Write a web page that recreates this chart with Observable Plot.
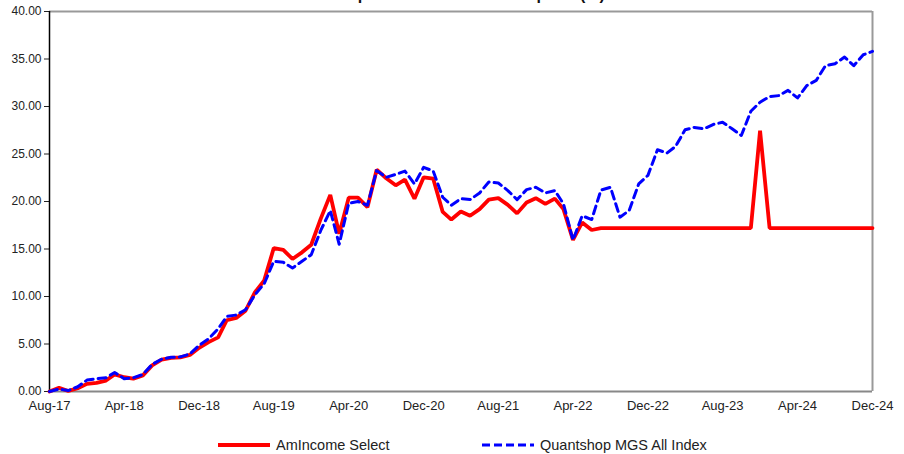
<!DOCTYPE html>
<html>
<head>
<meta charset="utf-8">
<script src="https://cdn.jsdelivr.net/npm/d3@7"></script>
<script src="https://cdn.jsdelivr.net/npm/@observablehq/plot@0.6"></script>
<style>
  body { margin: 0; background: #fff; font-family: "Liberation Sans", Arial, sans-serif; }
  #wrap { position: relative; width: 904px; height: 454px; overflow: hidden; }
  #title { position: absolute; top: -14px; left: 0; width: 872px; text-align: center; font-weight: bold; font-size: 16px; line-height: 18px; color: #111; white-space: nowrap; }
  #legend { position: absolute; top: 435px; left: 0; width: 904px; height: 20px; font-size: 14.5px; color: #222; }
  .item { position: absolute; top: 0; display: flex; align-items: center; }
  .item svg { margin-right: 6px; }
</style>
</head>
<body>
<div id="wrap">
  <div id="chart"></div>
  <div id="title">Cumulative performance since inception (%)</div>
  <div id="legend"></div>
</div>
<script>
const seriesNames = ["AmIncome Select", "Quantshop MGS All Index"];
const startMonth = "2017-08-01";
const endMonth = "2024-12-01";
const tickLabels = ["Aug-17","Apr-18","Dec-18","Aug-19","Apr-20","Dec-20","Aug-21","Apr-22","Dec-22","Aug-23","Apr-24","Dec-24"];
const yTicks = [0, 5, 10, 15, 20, 25, 30, 35, 40];

// Monthly values, Aug-17 .. Dec-24
const amIncome = [
  0.0, 0.4, 0.05, 0.35, 0.8, 0.9, 1.15, 1.8, 1.5, 1.35,
  1.7, 2.75, 3.35, 3.55, 3.6, 3.85, 4.6, 5.2, 5.7, 7.5,
  7.75, 8.5, 10.45, 11.7, 15.1, 14.9, 13.95, 14.65, 15.45, 18.2,
  20.7, 16.6, 20.4, 20.4, 19.4, 23.35, 22.45, 21.7, 22.3, 20.3,
  22.55, 22.4, 18.9, 18.1, 18.95, 18.5, 19.2, 20.2, 20.35, 19.65,
  18.75, 19.9, 20.35, 19.75, 20.3, 19.2, 15.95, 17.8, 17.0, 17.2,
  17.2, 17.2, 17.2, 17.2, 17.2, 17.2, 17.2, 17.2, 17.2, 17.2,
  17.2, 17.2, 17.2, 17.2, 17.2, 17.2, 27.45, 17.2, 17.2, 17.2,
  17.2, 17.2, 17.2, 17.2, 17.2, 17.2, 17.2, 17.2, 17.2
];
const quantshop = [
  0.0, 0.25, 0.1, 0.5, 1.2, 1.35, 1.45, 2.0, 1.35, 1.45,
  1.8, 2.85, 3.4, 3.6, 3.65, 3.95, 4.85, 5.55, 6.6, 7.9,
  8.05, 8.6, 10.2, 11.35, 13.7, 13.6, 13.0, 13.7, 14.4, 16.95,
  19.05, 15.5, 19.8, 20.0, 19.6, 23.25, 22.55, 22.85, 23.2, 21.85,
  23.6, 23.2, 20.45, 19.6, 20.3, 20.2, 20.9, 22.05, 21.95, 21.15,
  20.2, 21.25, 21.5, 20.9, 21.15, 19.75, 15.95, 18.5, 18.1, 21.2,
  21.5, 18.35, 19.05, 21.85, 22.75, 25.45, 25.1, 25.8, 27.55, 27.8,
  27.65, 28.1, 28.35, 27.65, 26.95, 29.5, 30.45, 31.05, 31.15, 31.7,
  30.9, 32.2, 32.75, 34.3, 34.5, 35.2, 34.3, 35.45, 35.8
];

const parse = d3.utcParse("%Y-%m-%d");
const t0 = parse(startMonth), t1 = parse(endMonth);
const months = d3.utcMonth.range(t0, d3.utcMonth.offset(t1, 1));
const parseLabel = d3.utcParse("%b-%y");
const tickDates = tickLabels.map(parseLabel);

const rows = [];
months.forEach((m, i) => {
  rows.push({date: m, value: amIncome[i], series: seriesNames[0]});
  rows.push({date: m, value: quantshop[i], series: seriesNames[1]});
});

const chart = Plot.plot({
  width: 904,
  height: 430,
  marginLeft: 49,
  marginRight: 32,
  marginTop: 11,
  marginBottom: 39,
  style: {fontFamily: "'Liberation Sans', Arial, sans-serif", fontSize: "12px", color: "#222", background: "#fff"},
  x: {type: "utc", domain: [t0, t1], ticks: tickDates, tickFormat: d3.utcFormat("%b-%y"), label: null, tickSize: 0, tickPadding: 9},
  y: {domain: [0, 40], ticks: yTicks, tickFormat: d3.format(".2f"), label: null, tickSize: 5, tickPadding: 3},
  marks: [
    Plot.ruleY([40], {stroke: "#999", strokeWidth: 2}),
    Plot.ruleX([t1], {stroke: "#999", strokeWidth: 2}),
    Plot.ruleY([0], {stroke: "#888", strokeWidth: 2}),
    Plot.ruleX([t0], {stroke: "#000", strokeWidth: 1.5}),
    Plot.lineY(rows.filter(d => d.series === seriesNames[0]), {x: "date", y: "value", stroke: "#ff0000", strokeWidth: 3.8, strokeLinejoin: "miter"}),
    Plot.lineY(rows.filter(d => d.series === seriesNames[1]), {x: "date", y: "value", stroke: "#0000ff", strokeWidth: 3, strokeDasharray: "8,5"})
  ]
});
document.getElementById("chart").appendChild(chart);
chart.querySelectorAll('[aria-label="x-axis tick label"] text').forEach(t => t.style.fontSize = "13px");

const legend = document.getElementById("legend");
const items = [
  {name: seriesNames[0], color: "#ff0000", dash: null, width: 3.8, left: 218},
  {name: seriesNames[1], color: "#0000ff", dash: "8,4", width: 3, left: 482}
];
items.forEach(it => {
  const div = document.createElement("div");
  div.className = "item";
  div.style.left = it.left + "px";
  div.innerHTML = `<svg width="52" height="20"><line x1="0" x2="52" y1="10" y2="10" stroke="${it.color}" stroke-width="${it.width}" ${it.dash ? `stroke-dasharray="${it.dash}"` : ""}/></svg><span>${it.name}</span>`;
  legend.appendChild(div);
});
</script>
</body>
</html>
